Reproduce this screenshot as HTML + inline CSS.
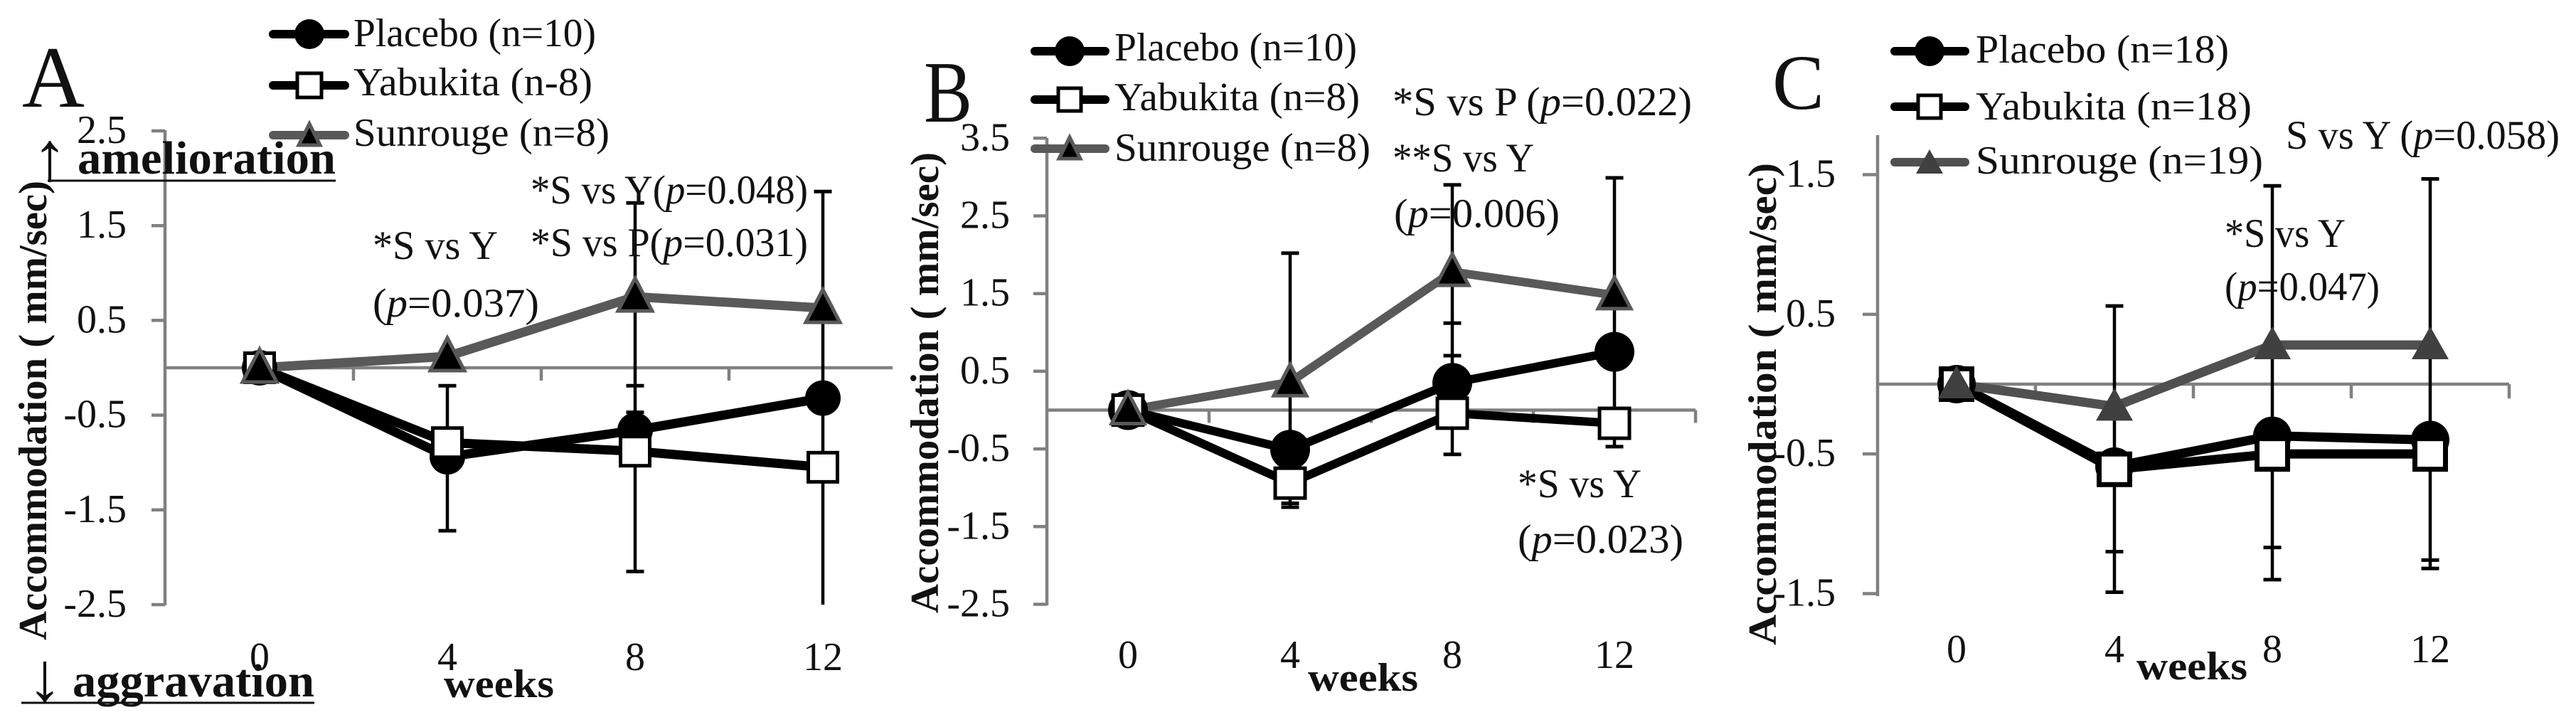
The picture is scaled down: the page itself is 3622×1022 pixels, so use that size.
<!DOCTYPE html>
<html lang="en">
<head>
<meta charset="utf-8">
<title>Accommodation change by tea group</title>
<style>
html,body{margin:0;padding:0;background:#fff;width:3622px;height:1022px;overflow:hidden}
svg{display:block}
text{font-family:"Liberation Serif",serif;fill:#111}
.lab{font-size:56px}
.leg{font-size:56px}
.note{font-size:57px}
.bold{font-weight:bold}
.big{font-size:123px}
.it{font-style:italic}
</style>
</head>
<body>
<svg id="figure" xmlns="http://www.w3.org/2000/svg" width="3622" height="1022" viewBox="0 0 3622 1022">
<rect x="0" y="0" width="3622" height="1022" fill="#fff"/>
<g id="panelA"></g>
<g id="panelB"></g>
<g id="panelC"></g>

<!-- Panel A text -->
<text class="big" x="31" y="150" textLength="88" lengthAdjust="spacingAndGlyphs">A</text>
<text class="leg" x="497" y="65" textLength="341" lengthAdjust="spacingAndGlyphs">Placebo (n=10)</text>
<text class="leg" x="497" y="134" textLength="336" lengthAdjust="spacingAndGlyphs">Yabukita (n-8)</text>
<text class="leg" x="497" y="205" textLength="360" lengthAdjust="spacingAndGlyphs">Sunrouge (n=8)</text>
<text class="lab bold" transform="translate(65,900) rotate(-90)" textLength="646" lengthAdjust="spacingAndGlyphs">Accommodation ( mm/sec)</text>
<text class="lab bold" x="624" y="980" textLength="155" lengthAdjust="spacingAndGlyphs">weeks</text>
<text class="lab" x="70" y="253" style="font-size:98px" text-anchor="middle">↑</text>
<text class="lab bold" x="109" y="244" textLength="363" lengthAdjust="spacingAndGlyphs" style="font-size:66px">amelioration</text>
<line x1="67" y1="254" x2="472" y2="254" stroke="#111" stroke-width="3"/>
<text class="lab" x="63" y="985" style="font-size:98px" text-anchor="middle">↓</text>
<text class="lab bold" x="102" y="979" textLength="340" lengthAdjust="spacingAndGlyphs" style="font-size:66px">aggravation</text>
<line x1="30" y1="988" x2="442" y2="988" stroke="#111" stroke-width="3"/>
<text class="note" x="524" y="364" textLength="176" lengthAdjust="spacingAndGlyphs">*S vs Y</text>
<text class="note" x="524" y="445" textLength="234" lengthAdjust="spacingAndGlyphs">(<tspan class="it">p</tspan>=0.037)</text>
<text class="note" x="746" y="286" textLength="390" lengthAdjust="spacingAndGlyphs">*S vs Y(<tspan class="it">p</tspan>=0.048)</text>
<text class="note" x="746" y="360" textLength="390" lengthAdjust="spacingAndGlyphs">*S vs P(<tspan class="it">p</tspan>=0.031)</text>

<!-- Panel B text -->
<text class="big" x="1299" y="171" textLength="68" lengthAdjust="spacingAndGlyphs">B</text>
<text class="leg" x="1567" y="85" textLength="341" lengthAdjust="spacingAndGlyphs">Placebo (n=10)</text>
<text class="leg" x="1567" y="155" textLength="345" lengthAdjust="spacingAndGlyphs">Yabukita (n=8)</text>
<text class="leg" x="1567" y="226" textLength="360" lengthAdjust="spacingAndGlyphs">Sunrouge (n=8)</text>
<text class="lab bold" transform="translate(1319,862) rotate(-90)" textLength="648" lengthAdjust="spacingAndGlyphs">Accommodation ( mm/sec)</text>
<text class="lab bold" x="1839" y="971" textLength="155" lengthAdjust="spacingAndGlyphs">weeks</text>
<text class="note" x="1958" y="162" textLength="421" lengthAdjust="spacingAndGlyphs">*S vs P (<tspan class="it">p</tspan>=0.022)</text>
<text class="note" x="1958" y="241" textLength="199" lengthAdjust="spacingAndGlyphs">**S vs Y</text>
<text class="note" x="1960" y="319" textLength="233" lengthAdjust="spacingAndGlyphs">(<tspan class="it">p</tspan>=0.006)</text>
<text class="note" x="2134" y="699" textLength="174" lengthAdjust="spacingAndGlyphs">*S vs Y</text>
<text class="note" x="2134" y="777" textLength="233" lengthAdjust="spacingAndGlyphs">(<tspan class="it">p</tspan>=0.023)</text>

<!-- Panel C text -->
<text class="big" x="2492" y="153" textLength="73" lengthAdjust="spacingAndGlyphs" style="font-size:110px">C</text>
<text class="leg" x="2778" y="88" textLength="356" lengthAdjust="spacingAndGlyphs">Placebo (n=18)</text>
<text class="leg" x="2778" y="168" textLength="388" lengthAdjust="spacingAndGlyphs">Yabukita (n=18)</text>
<text class="leg" x="2778" y="244" textLength="404" lengthAdjust="spacingAndGlyphs">Sunrouge (n=19)</text>
<text class="lab bold" transform="translate(2497,907) rotate(-90)" textLength="678" lengthAdjust="spacingAndGlyphs">Accommodation  ( mm/sec)</text>
<text class="lab bold" x="3004" y="955" textLength="156" lengthAdjust="spacingAndGlyphs">weeks</text>
<text class="note" x="3214" y="209" textLength="385" lengthAdjust="spacingAndGlyphs">S vs Y (<tspan class="it">p</tspan>=0.058)</text>
<text class="note" x="3128" y="347" textLength="170" lengthAdjust="spacingAndGlyphs">*S vs Y</text>
<text class="note" x="3128" y="422" textLength="218" lengthAdjust="spacingAndGlyphs">(<tspan class="it">p</tspan>=0.047)</text>
<g id="panelCLabels"></g>
</svg>

<script>
// ---- Chart data ----
const weekLabels = ['0', '4', '8', '12'];

const yTicksA = [2.5, 1.5, 0.5, -0.5, -1.5, -2.5];
const placeboA = [0, -0.94, -0.66, -0.32];
const yabukitaA = [0, -0.79, -0.88, -1.05];
const sunrougeA = [0, 0.12, 0.75, 0.63];
const errorEndsA = [[], [-1.72, -0.19], [-2.15, -0.47, -0.19, 1.74], [-2.5, 1.86]];

const yTicksB = [3.5, 2.5, 1.5, 0.5, -0.5, -1.5, -2.5];
const placeboB = [0, -0.51, 0.35, 0.75];
const yabukitaB = [0, -0.94, -0.04, -0.17];
const sunrougeB = [0, 0.36, 1.78, 1.48];
const errorEndsB = [[], [-1.25, -1.2, 2.02], [-0.57, 0.7, 1.12, 2.9], [-0.47, 2.99]];

const yTicksC = [1.5, 0.5, -0.5, -1.5];
const placeboC = [0, -0.59, -0.37, -0.40];
const yabukitaC = [0, -0.61, -0.5, -0.5];
const sunrougeC = [0, -0.16, 0.28, 0.28];
const errorEndsC = [[], [-1.49, -1.2, 0.56], [-1.40, -1.17, 1.42], [-1.32, -1.26, 1.47]];

// ---- Layout (geometry only, no data) ----
const layoutA = {x0: 365, dx: 264, y0: 517, unit: 133.2, axisLeft: 232, zeroEnd: 1255, axisTop: 183, axisBottom: 849, labelRight: 178, labelY: 942, tickLen: 19, xTickLen: 18, r: 25, sq: 41, sqStroke: 5, tri: 48, triH: 46, triFill: '#000', triStroke: '#595959', lineW: 13, lineGrey: '#595959', legX1: 378, legX2: 491, legXm: 435, legY: [48, 120, 190], legR: 21, legSq: 34, legTri: 30, legTriH: 30, legLine: 12, lastTick: false};
const layoutB = {x0: 1586, dx: 228, y0: 576.5, unit: 109.2, axisLeft: 1472, zeroEnd: 2384, axisTop: 194, axisBottom: 849, labelRight: 1420, labelY: 939, tickLen: 19, xTickLen: 18, r: 28, sq: 42, sqStroke: 5, tri: 46, triH: 44, triFill: '#000', triStroke: '#595959', lineW: 12, lineGrey: '#595959', legX1: 1449, legX2: 1560, legXm: 1504, legY: [72, 140, 209], legR: 21, legSq: 32, legTri: 30, legTriH: 30, legLine: 12, lastTick: true};
const layoutC = {x0: 2751, dx: 222, y0: 540, unit: 196.3, axisLeft: 2640, zeroEnd: 3528, axisTop: 190, axisBottom: 836, labelRight: 2581, labelY: 931, tickLen: 21, xTickLen: 20, r: 27, sq: 43, sqStroke: 7, tri: 52, triH: 46, triFill: '#404040', triStroke: 'none', lineW: 13, lineGrey: '#505050', legX1: 2658, legX2: 2769, legXm: 2713, legY: [72, 150, 228], legR: 21, legSq: 32, legTri: 38, legTriH: 34, legLine: 12, lastTick: true};

const NS = 'http://www.w3.org/2000/svg';
function make(parent, tag, attrs) {
  const el = document.createElementNS(NS, tag);
  for (const k in attrs) el.setAttribute(k, attrs[k]);
  parent.appendChild(el);
  return el;
}
function xScale(L, i) { return L.x0 + i * L.dx; }
function yScale(L, v) { return L.y0 - v * L.unit; }

function drawTriangle(parent, cx, cy, w, h, fill, stroke, name) {
  const pts = (cx - w / 2) + ',' + (cy + h / 2) + ' ' + (cx + w / 2) + ',' + (cy + h / 2) + ' ' + cx + ',' + (cy - h / 2);
  const t = make(parent, 'polygon', {points: pts, fill: fill, stroke: stroke, 'stroke-width': stroke === 'none' ? 0 : 5});
  
  
}
function drawCircle(parent, cx, cy, r, name) {
  const c = make(parent, 'circle', {cx: cx, cy: cy, r: r, fill: '#000'});
  
  
}
function drawSquare(parent, cx, cy, s, sw, name) {
  const q = make(parent, 'rect', {x: cx - s / 2, y: cy - s / 2, width: s, height: s, fill: '#fff', stroke: '#000', 'stroke-width': sw});
  
  
}
function seriesLine(parent, L, values, colour, name) {
  const pts = values.map((v, i) => xScale(L, i) + ',' + yScale(L, v)).join(' ');
  const p = make(parent, 'polyline', {points: pts, fill: 'none', stroke: colour, 'stroke-width': L.lineW, 'stroke-linejoin': 'round'});
  
  
}

function drawPanel(id, tag, L, yTicks, placebo, yabukita, sunrouge, errorEnds, labelHost) {
  const g = document.getElementById(id);
  const grey = '#808080';

  const yAxis = make(g, 'line', {x1: L.axisLeft, y1: L.axisTop, x2: L.axisLeft, y2: L.axisBottom + 2, stroke: grey, 'stroke-width': 4.5});
  
  

  const xAxis = make(g, 'line', {x1: L.axisLeft - 2, y1: L.y0, x2: L.zeroEnd, y2: L.y0, stroke: grey, 'stroke-width': 4.5});
  
  

  yTicks.forEach(function (v) {
    const y = yScale(L, v);
    const tick = make(g, 'line', {x1: L.axisLeft - L.tickLen, y1: y, x2: L.axisLeft, y2: y, stroke: grey, 'stroke-width': 4.5});
    
    
    const label = make(labelHost || g, 'text', {x: L.labelRight, y: y + 17, 'text-anchor': 'end', class: 'lab'});
    
    
    label.textContent = v.toFixed(1);
  });

  const tickCount = L.lastTick ? weekLabels.length : weekLabels.length - 1;
  for (let i = 0; i < tickCount; i++) {
    const tx = xScale(L, i) + L.dx / 2;
    const xt = make(g, 'line', {x1: tx, y1: L.y0, x2: tx, y2: L.y0 + L.xTickLen, stroke: grey, 'stroke-width': 4.5});
    
    
  }

  weekLabels.forEach(function (w, i) {
    const t = make(g, 'text', {x: xScale(L, i), y: L.labelY, 'text-anchor': 'middle', class: 'lab'});
    
    
    t.textContent = w;
  });

  errorEnds.forEach(function (ends, i) {
    if (!ends.length) return;
    const cx = xScale(L, i);
    const stem = make(g, 'line', {x1: cx, y1: yScale(L, Math.min.apply(null, ends)), x2: cx, y2: yScale(L, Math.max.apply(null, ends)), stroke: '#000', 'stroke-width': 4.5});
    
    
    ends.forEach(function (v) {
      const cy = yScale(L, v);
      if (cy >= L.axisBottom) return;
      const cap = make(g, 'line', {x1: cx - 12.5, y1: cy, x2: cx + 12.5, y2: cy, stroke: '#000', 'stroke-width': 5});
      
      
    });
  });

  seriesLine(g, L, placebo, '#000', 'placebo-line-' + tag);
  seriesLine(g, L, yabukita, '#000', 'yabukita-line-' + tag);
  seriesLine(g, L, sunrouge, L.lineGrey, 'sunrouge-line-' + tag);

  placebo.forEach(function (v, i) {
    drawCircle(g, xScale(L, i), yScale(L, v), L.r, 'placebo-point-' + tag);
  });
  yabukita.forEach(function (v, i) {
    drawSquare(g, xScale(L, i), yScale(L, v), L.sq, L.sqStroke, 'yabukita-point-' + tag);
  });
  sunrouge.forEach(function (v, i) {
    drawTriangle(g, xScale(L, i), yScale(L, v) - 3, L.tri, L.triH, L.triFill, L.triStroke, 'sunrouge-point-' + tag);
  });

  // legend swatches
  const legendColours = ['#000', '#000', L.lineGrey];
  L.legY.forEach(function (ly, i) {
    const sw = make(g, 'line', {x1: L.legX1 + 6, y1: ly, x2: L.legX2 - 6, y2: ly, stroke: legendColours[i], 'stroke-width': L.legLine, 'stroke-linecap': 'round'});
    
    
  });
  drawCircle(g, L.legXm, L.legY[0], L.legR, 'legend-marker-placebo-' + tag);
  drawSquare(g, L.legXm, L.legY[1], L.legSq, 5, 'legend-marker-yabukita-' + tag);
  drawTriangle(g, L.legXm, L.legY[2] - 1, L.legTri, L.legTriH, L.triFill, L.triStroke, 'legend-marker-sunrouge-' + tag);
}

drawPanel('panelA', 'a', layoutA, yTicksA, placeboA, yabukitaA, sunrougeA, errorEndsA);
drawPanel('panelB', 'b', layoutB, yTicksB, placeboB, yabukitaB, sunrougeB, errorEndsB);
drawPanel('panelC', 'c', layoutC, yTicksC, placeboC, yabukitaC, sunrougeC, errorEndsC, document.getElementById('panelCLabels'));
</script>
</body>
</html>
